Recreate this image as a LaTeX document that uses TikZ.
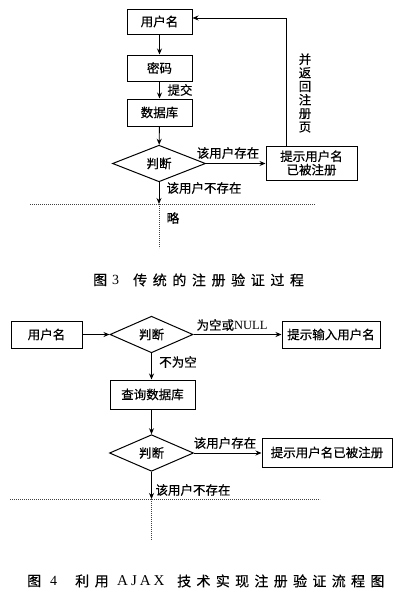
\documentclass[tikz,border=0pt]{standalone}
\usepackage{fontspec}
\setmainfont{Liberation Serif}
\newfontfamily\cjk[FakeBold=0.4]{Noto Sans CJK SC}
\usetikzlibrary{shapes.geometric,arrows.meta}
\begin{document}
\begin{tikzpicture}[x=1pt,y=-1pt,
  txt/.style={font=\cjk\fontsize{12.5}{14}\selectfont},
  box/.style={draw,line width=1pt,txt,inner sep=2pt},
  dec/.style={draw,diamond,line width=1pt,txt,inner sep=0pt},
  lab/.style={txt,inner sep=0pt},
  arr/.style={line width=0.9pt,-{Stealth[length=6pt,width=5pt]}},
  ln/.style={line width=0.9pt},
  dots/.style={line width=0.6pt,dash pattern=on 0.6pt off 1.4pt,black!75},
  captxt/.style={inner sep=0pt,anchor=west,font=\cjk\fontsize{14}{16}\selectfont}]
\useasboundingbox (0,0) rectangle (403,597);
\fill[white] (0,0) rectangle (403,597);

% ---------- Figure 3 ----------
\node[box,minimum width=65pt,minimum height=25pt] (u1) at (159.5,21.5) {用户名};
\node[box,minimum width=65pt,minimum height=26pt] (m1) at (159.5,68) {密码};
\node[box,minimum width=65pt,minimum height=27pt] (d1) at (159.5,112.5) {数据库};
\node[dec,minimum width=93pt,minimum height=31pt] (j1) at (159,163.5) {判断};
\node[box,minimum width=91pt,minimum height=34pt,align=center,font=\cjk\fontsize{12.5}{13.5}\selectfont] (t1) at (311.5,163) {提示用户名\\已被注册};
\coordinate (e1) at (159,204);

\draw[arr] (u1) -- (m1);
\draw[arr] (m1) -- (d1);
\draw[arr] (d1) -- (j1);
\draw[arr] (j1) -- (t1.west |- j1);
\draw[arr] ([xshift=-25.5pt]t1.north) |- ([yshift=3.5pt]u1.east);
\draw[arr] (j1.south) -- (e1);

\node[lab] (l1) at (180,90) {提交};
\node[lab] (l2) at (228,153) {该用户存在};
\node[lab] (l3) at (204,188) {该用户不存在};
\node[lab,align=center,font=\cjk\fontsize{12.5}{13.5}\selectfont] (l4) at (305,93) {并\\返\\回\\注\\册\\页};
\node[lab] (l5) at (173,218) {略};

\draw[dots] (30,204) -- (315,204);
\draw[dots] (e1) -- (159,248);

\node[captxt] (c3a) at (93,280) {图};
\node[captxt,font=\fontsize{14}{16}\selectfont] (c3b) at (112,280) {3};
\node[captxt,font=\cjk\fontsize{14}{16}\selectfont\addfontfeature{LetterSpace=40}] (c3c) at (133,280) {传统的注册验证过程};

% ---------- Figure 4 ----------
\node[box,minimum width=71pt,minimum height=27pt] (u2) at (46.5,334.5) {用户名};
\node[dec,minimum width=83pt,minimum height=33pt] (j2) at (151.5,334.5) {判断};
\node[box,minimum width=98pt,minimum height=27pt] (p2) at (331,334.5) {提示输入用户名};
\node[box,minimum width=85pt,minimum height=29pt] (q2) at (152.5,394.5) {查询数据库};
\node[dec,minimum width=84pt,minimum height=32pt] (j3) at (151.5,453) {判断};
\node[box,minimum width=130pt,minimum height=29pt] (r2) at (327,452.5) {提示用户名已被注册};
\coordinate (e2) at (151.5,499);

\draw[arr] (u2) -- (j2);
\draw[arr] (j2) -- (p2);
\draw[arr] (j2.south) -- (q2.north -| j2.south);
\draw[arr] (q2.south -| j3.north) -- (j3.north);
\draw[arr] (j3) -- (r2.west |- j3);
\draw[arr] (j3.south) -- (e2);

\node[lab] (l6) at (232,325) {为空或{\rmfamily\fontsize{12.5}{14}\selectfont NULL}};
\node[lab] (l7) at (178,362) {不为空};
\node[lab] (l8) at (225,443) {该用户存在};
\node[lab] (l9) at (193,490) {该用户不存在};

\draw[dots] (10,499) -- (320,499);
\draw[dots] (e2) -- (151.5,540);

\node[captxt] (c4a) at (27,581) {图};
\node[captxt,font=\fontsize{14}{16}\selectfont] (c4b) at (50,581) {4};
\node[captxt,font=\cjk\fontsize{14}{16}\selectfont\addfontfeature{LetterSpace=40}] (c4c) at (75,581) {利用};
\node[captxt,font=\fontsize{15}{16}\selectfont\addfontfeature{LetterSpace=20}] (c4d) at (117,581) {AJAX};
\node[captxt,font=\cjk\fontsize{14}{16}\selectfont\addfontfeature{LetterSpace=38}] (c4e) at (177,581) {技术实现注册验证流程图};
\end{tikzpicture}
\end{document}
